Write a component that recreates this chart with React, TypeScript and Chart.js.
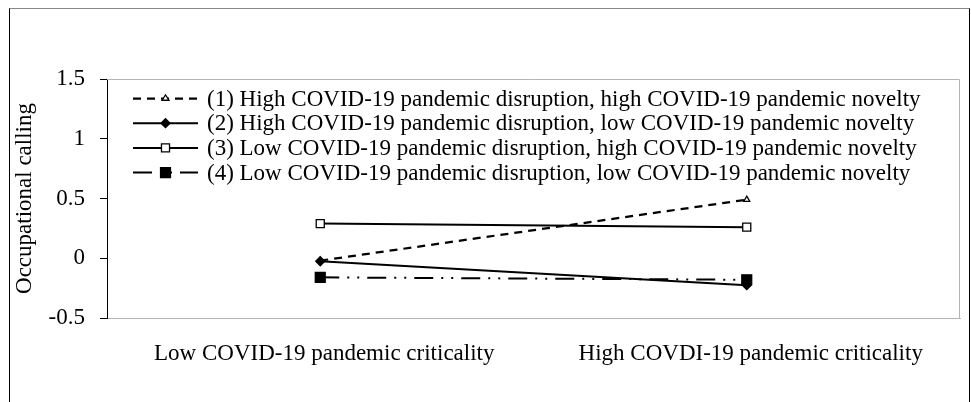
import React, { useEffect, useRef } from "react";
import { Chart, registerables } from "chart.js";

Chart.register(...registerables);

const FONT = "'Liberation Serif', 'Times New Roman', serif";
const FS = 23;

const categories = ["Low COVID-19 pandemic criticality", "High COVDI-19 pandemic criticality"];
const seriesLabels = [
  "(1) High COVID-19 pandemic disruption, high COVID-19 pandemic novelty",
  "(2) High COVID-19 pandemic disruption, low COVID-19 pandemic novelty",
  "(3) Low COVID-19 pandemic disruption, high COVID-19 pandemic novelty",
  "(4) Low COVID-19 pandemic disruption, low COVID-19 pandemic novelty",
];
const series1 = [-0.02, 0.49];
const series2 = [-0.025, -0.225];
const series3 = [0.29, 0.26];
const series4 = [-0.16, -0.18];
const yMin = -0.5;
const yMax = 1.5;
const yStep = 0.5;
const yTitle = "Occupational calling";

type Mk = { style: string; radius: number; fill: string };
const markers: Mk[] = [
  { style: "triangle", radius: 3.5, fill: "#fff" },
  { style: "rectRot", radius: 4.5, fill: "#000" },
  { style: "rect", radius: 5.7, fill: "#fff" },
  { style: "rect", radius: 7, fill: "#000" },
];
const dashes = [[8, 6], [], [], [19, 8, 2, 8, 2, 8]];
const widths = [2.25, 2, 2, 2];

function drawMarker(ctx: CanvasRenderingContext2D, m: Mk, x: number, y: number) {
  ctx.save();
  ctx.setLineDash([]);
  ctx.lineWidth = 1.3;
  ctx.strokeStyle = "#000";
  ctx.fillStyle = m.fill;
  ctx.beginPath();
  const r = m.radius;
  if (m.style === "rect") {
    const s = r * Math.SQRT1_2;
    ctx.rect(x - s, y - s, 2 * s, 2 * s);
  } else if (m.style === "rectRot") {
    ctx.moveTo(x, y - r);
    ctx.lineTo(x + r, y);
    ctx.lineTo(x, y + r);
    ctx.lineTo(x - r, y);
    ctx.closePath();
  } else {
    ctx.moveTo(x - r, y + r * 0.5);
    ctx.lineTo(x, y - r);
    ctx.lineTo(x + r, y + r * 0.5);
    ctx.closePath();
  }
  ctx.fill();
  ctx.stroke();
  ctx.restore();
}

const frameAndLegend = {
  id: "frameAndLegend",
  beforeDatasetsDraw(chart: any) {
    const { left, right, top, bottom } = chart.chartArea;
    const ctx = chart.ctx as CanvasRenderingContext2D;
    ctx.save();
    ctx.strokeStyle = "#b4b4b4";
    ctx.lineWidth = 1;
    ctx.beginPath();
    ctx.moveTo(left, top + 0.5);
    ctx.lineTo(right - 0.5, top + 0.5);
    ctx.lineTo(right - 0.5, bottom);
    ctx.stroke();
    ctx.restore();
  },
  afterDraw(chart: any) {
    const ctx = chart.ctx as CanvasRenderingContext2D;
    const { left, top } = chart.chartArea;
    chart.data.datasets.forEach((ds: any, i: number) => {
      const y = top + 19.5 + i * 24.7;
      const x0 = left + 26;
      const x1 = left + 91;
      ctx.save();
      ctx.strokeStyle = "#000";
      ctx.lineWidth = widths[i];
      ctx.setLineDash(dashes[i]);
      ctx.beginPath();
      ctx.moveTo(x0, y);
      ctx.lineTo(x1, y);
      ctx.stroke();
      ctx.restore();
      drawMarker(ctx, markers[i], (x0 + x1) / 2, y);
      ctx.save();
      ctx.fillStyle = "#000";
      ctx.font = `${FS}px ${FONT}`;
      ctx.textBaseline = "middle";
      ctx.textAlign = "left";
      ctx.fillText(ds.label, left + 100, y + 1);
      ctx.restore();
    });
  },
};

export default function App() {
  const ref = useRef<HTMLCanvasElement | null>(null);
  useEffect(() => {
    if (!ref.current) return;
    const all = [series1, series2, series3, series4];
    const chart = new Chart(ref.current, {
      type: "line",
      data: {
        labels: categories,
        datasets: all.map((d, i) => ({
          label: seriesLabels[i],
          data: d,
          order: all.length - i,
          borderColor: "#000",
          backgroundColor: markers[i].fill,
          borderWidth: widths[i],
          borderDash: dashes[i],
          pointStyle: markers[i].style as any,
          pointRadius: markers[i].radius,
          pointBorderWidth: 1.3,
          pointBorderColor: "#000",
          pointBackgroundColor: markers[i].fill,
          tension: 0,
          fill: false,
        })),
      },
      options: {
        responsive: false,
        animation: false,
        devicePixelRatio: 1,
        layout: { padding: { top: 79, right: 11, left: 0, bottom: 0 } },
        plugins: { legend: { display: false }, tooltip: { enabled: false } },
        scales: {
          x: {
            offset: true,
            grid: { display: false },
            border: { display: true, color: "#b4b4b4", width: 1 },
            ticks: { color: "#000", font: { family: FONT, size: FS }, padding: 14, maxRotation: 0, labelOffset: 4 },
            afterFit: (s: any) => { s.height = 84; },
          },
          y: {
            min: yMin,
            max: yMax,
            ticks: {
              stepSize: yStep,
              color: "#000",
              font: { family: FONT, size: FS },
              padding: 15,
              callback: (v: any) => String(Number(v)),
            },
            grid: { drawOnChartArea: false, drawTicks: true, tickLength: 7, color: "#000" },
            border: { display: true, color: "#000", width: 1 },
            title: { display: true, text: yTitle, color: "#000", font: { family: FONT, size: FS }, padding: { top: 11, bottom: 0 } },
            afterFit: (s: any) => { s.width = 107; },
          },
        },
      },
      plugins: [frameAndLegend],
    });
    return () => chart.destroy();
  }, []);
  return (
    <>
      <div
        style={{
          position: "fixed",
          left: 9,
          top: 8,
          width: 961,
          height: 420,
          boxSizing: "border-box",
          borderLeft: "1px solid #000",
          borderRight: "1px solid #000",
          borderTop: "1px solid #888",
        }}
      />
      <canvas
        ref={ref}
        width={971}
        height={402}
        style={{ position: "fixed", left: 0, top: 0, width: 971, height: 402 }}
      />
    </>
  );
}
